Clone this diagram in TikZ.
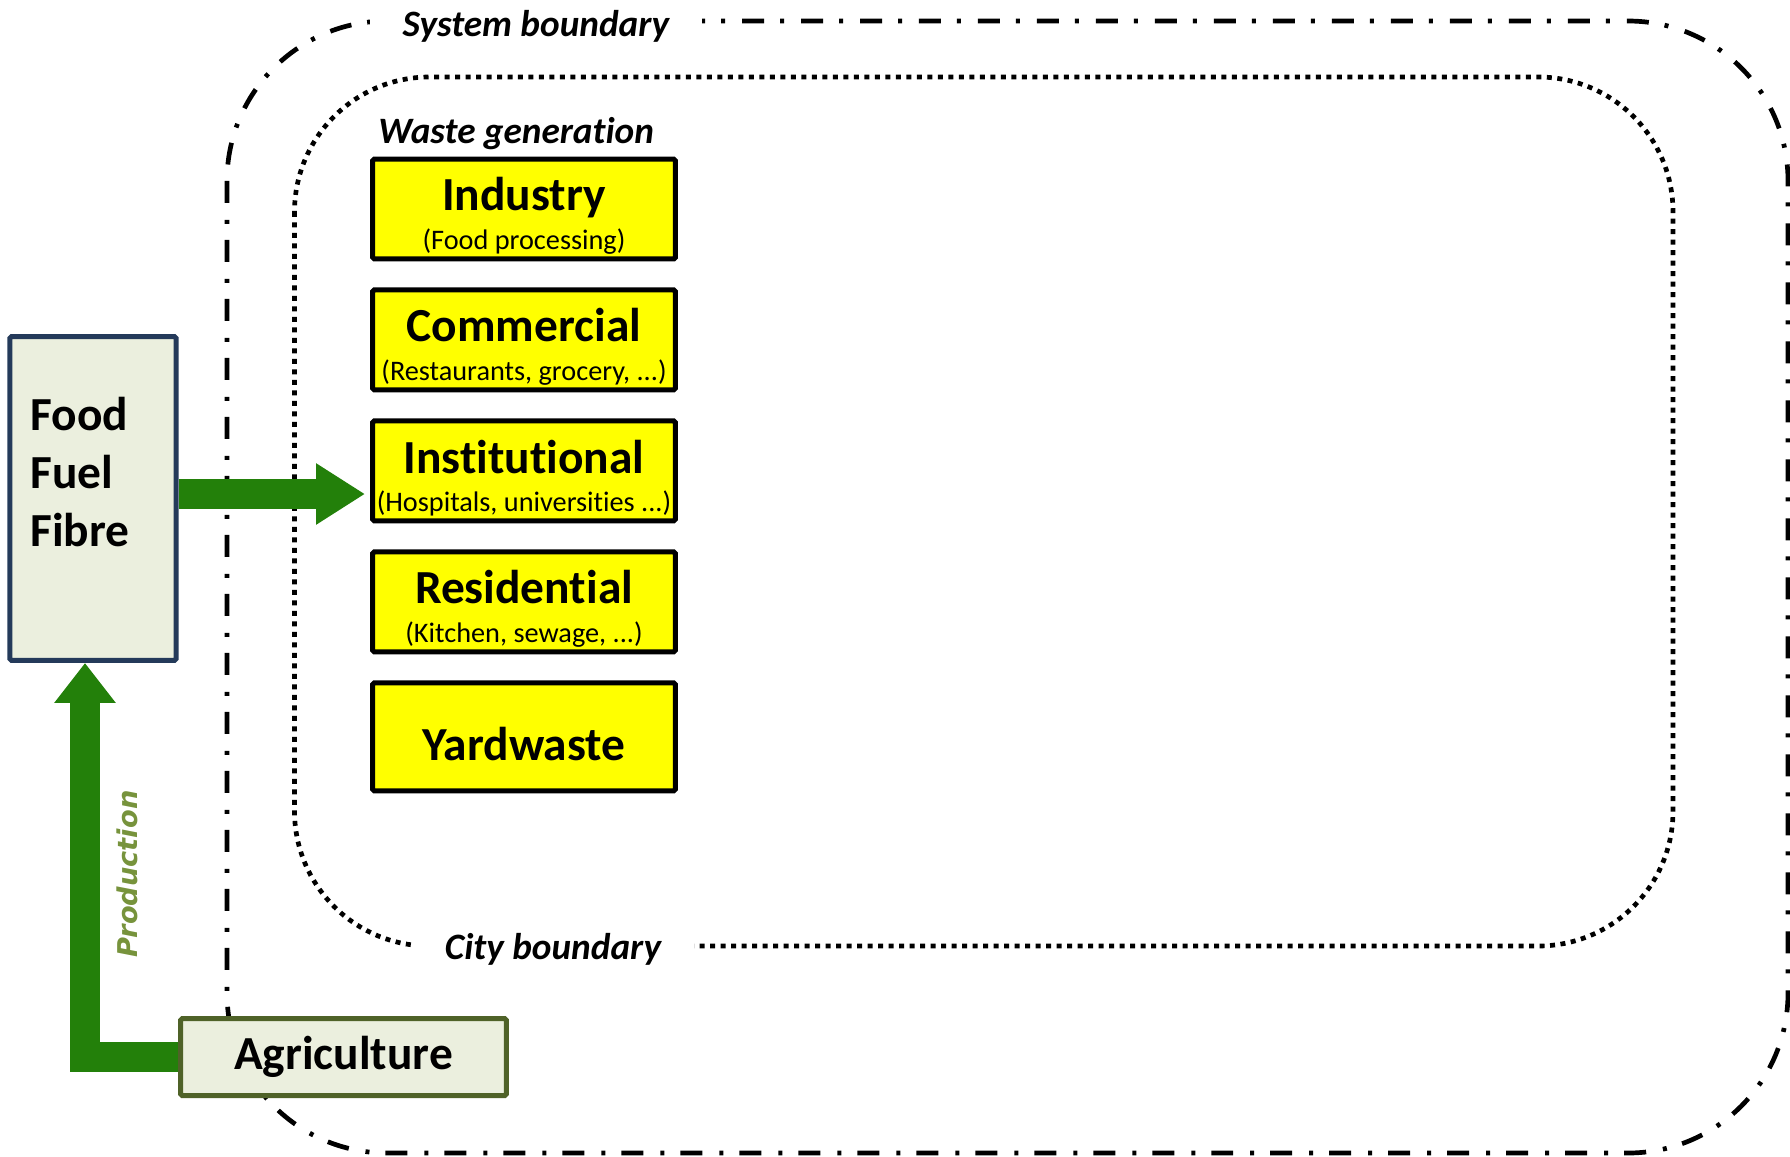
\documentclass[tikz,border=0pt]{standalone}
\usepackage{fontspec}
\setmainfont{Carlito}[Ligatures=CommonOff]
\newfontfamily\prodfont{DejaVu Sans}
\usetikzlibrary{positioning,arrows.meta}
\definecolor{flowgreen}{RGB}{35,128,10}
\definecolor{prodgreen}{RGB}{119,147,60}
\definecolor{agriedge}{RGB}{79,98,40}
\definecolor{foodedge}{RGB}{36,58,90}
\definecolor{paleolive}{RGB}{235,239,222}
\definecolor{wasteyellow}{RGB}{255,255,0}
\newcommand{\titlef}{\fontsize{27}{33}\selectfont\bfseries\rule{0pt}{0.95cm}}
\newcommand{\subf}{\fontsize{16.1}{19}\selectfont}
\tikzstyle{wasteblock} = [rectangle, draw=black, fill=wasteyellow, line width=0.1cm,
    minimum width=6.06cm, minimum height=2cm, align=center, inner sep=0pt,
    rounded corners=1pt, font=\subf]
\tikzstyle{source} = [rectangle, draw, fill=paleolive, line width=0.1cm, rounded corners=1pt]
\tikzstyle{tag} = [fill=white, inner xsep=0.66cm, inner ysep=2pt,
    font=\fontsize{21.2}{25}\selectfont\bfseries\itshape]
\tikzstyle{flow} = [draw=flowgreen, line width=0.6cm, line join=miter]
\tikzstyle{sysline} = [line width=0.094cm, dash pattern=on 0.44cm off 0.34cm on 0.08cm off 0.32cm]
\tikzstyle{cityline} = [line width=0.094cm, dash pattern=on 0.1cm off 0.11cm]

\begin{document}
\begin{tikzpicture}[x=0.02cm, y=-0.02cm]
    \useasboundingbox (0,0) rectangle (1790,1156);
    % Boundaries
    \draw [sysline, rounded corners=3.2cm] (227,21) rectangle (1788,1153);
    \draw [cityline, rounded corners=2.7cm] (294.5,77) rectangle (1673,946);
    \node [tag] (systag) at (536,26) {System boundary};
    \node [tag] (citytag) at (553,949) {City boundary};
    % Place nodes
    \node [wasteblock] (ind) at (524,209) {{\titlef Industry}\\[3pt](Food processing)};
    \node [wasteblock, below=0.52cm of ind] (com) {{\titlef Commercial}\\[3pt](Restaurants, grocery, ...)};
    \node [wasteblock, below=0.52cm of com] (inst) {{\titlef Institutional}\\[3pt](Hospitals, universities ...)};
    \node [wasteblock, below=0.52cm of inst] (res) {{\titlef Residential}\\[3pt](Kitchen, sewage, ...)};
    \node [wasteblock, below=0.52cm of res, minimum height=2.16cm] (yard) {{\titlef Yardwaste}};
    \node [anchor=base west, inner sep=0pt, font=\fontsize{21.2}{25}\selectfont\bfseries\itshape]
        (wastetag) at ([xshift=0.16cm, yshift=0.27cm]ind.north west) {Waste generation};
    \node [source, draw=foodedge, minimum width=3.33cm, minimum height=6.48cm] (ffbox) at (93,498.5) {};
    \node [anchor=west, align=left, inner sep=0pt, font=\fontsize{27}{33}\selectfont\bfseries]
        (fff) at (30,472) {Food\\Fuel\\Fibre};
    \node [source, draw=agriedge, minimum width=6.52cm, minimum height=1.54cm,
        font=\fontsize{27}{33}\selectfont\bfseries] (agri) at (343.5,1057) {Agriculture};
    \coordinate (prodtip) at ([xshift=-0.16cm]ffbox.south);
    % Draw edges
    \path [flow, -{Triangle[width=1.16cm,length=0.98cm]}, shorten >=0.1cm]
        ([yshift=0.09cm]ffbox.east) -- ([yshift=0.09cm]ffbox.east -| inst.west);
    \path [flow, -{Triangle[width=1.18cm,length=0.8cm]}] (agri.west) -| (prodtip);
    \node [rotate=90, text=prodgreen, font=\prodfont\fontsize{15.5}{18}\selectfont\bfseries\itshape]
        (prodtxt) at (127.5,874) {Production};
\end{tikzpicture}
\end{document}
